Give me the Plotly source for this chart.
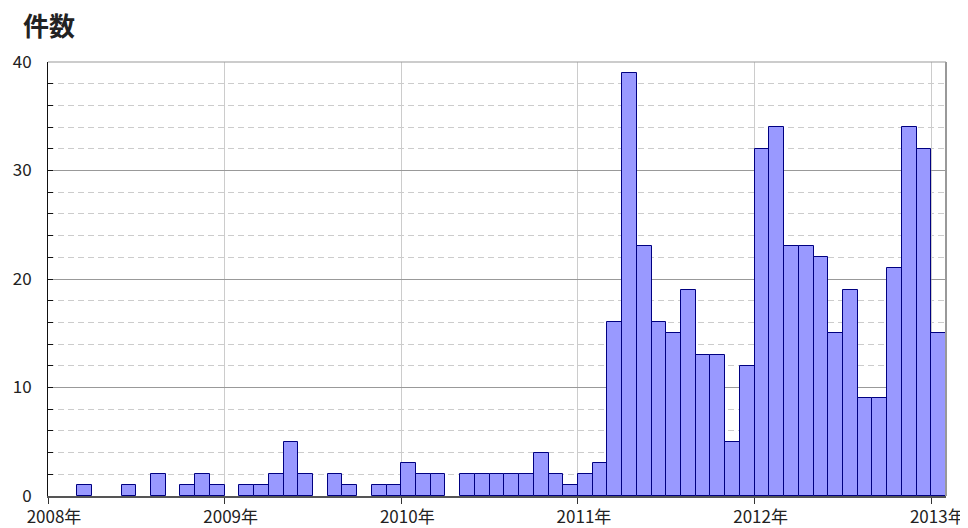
import plotly.graph_objects as go

# Monthly counts, Jan 2008 .. Jan 2013
years = ["2008年", "2009年", "2010年", "2011年", "2012年", "2013年"]
counts_2008 = [0, 0, 1, 0, 0, 1, 0, 2, 0, 1, 2, 1]
counts_2009 = [0, 1, 1, 2, 5, 2, 0, 2, 1, 0, 1, 1]
counts_2010 = [3, 2, 2, 0, 2, 2, 2, 2, 2, 4, 2, 1]
counts_2011 = [2, 3, 16, 39, 23, 16, 15, 19, 13, 13, 5, 12]
counts_2012 = [32, 34, 23, 23, 22, 15, 19, 9, 9, 21, 34, 32]
counts_2013 = [15]
y_title = "件数"

counts = counts_2008 + counts_2009 + counts_2010 + counts_2011 + counts_2012 + counts_2013
month_index = list(range(len(counts)))
x_centers = [i + 0.5 for i in month_index]
# months with no cases get no bar
bar_values = [c if c > 0 else None for c in counts]
year_ticks = [12 * k for k in range(len(years))]

FONT = "Noto Sans CJK JP"

# the page body has an 8px margin, so the figure is 8px smaller on each side
W, H = 960, 520

fig = go.Figure()
fig.add_trace(go.Bar(
    x=x_centers,
    y=bar_values,
    width=1,
    marker=dict(color="#9999ff", line=dict(color="#000080", width=1)),
    hoverinfo="y",
))

fig.update_layout(
    width=W, height=H,
    margin=dict(l=40, r=22, t=54, b=32),
    paper_bgcolor="white",
    plot_bgcolor="white",
    showlegend=False,
    bargap=0,
    font=dict(family=FONT, size=17, color="#222"),
    annotations=[
        dict(
            text="<b>" + y_title + "</b>",
            font=dict(family=FONT, size=26, color="#222"),
            xref="paper", yref="paper",
            x=0, y=1, xanchor="left", yanchor="middle",
            xshift=-27, yshift=38,
            showarrow=False,
        )
    ],
    xaxis=dict(
        range=[0, len(counts)],
        tickmode="array",
        tickvals=year_ticks,
        ticktext=years,
        ticks="outside",
        ticklen=6,
        tickcolor="#333",
        ticklabelshift=6,
        ticklabelstandoff=-1,
        showgrid=True,
        gridcolor="#cccccc",
        gridwidth=1,
        showline=True,
        linecolor="#555555",
        linewidth=2,
        zeroline=False,
        automargin=False,
        fixedrange=True,
    ),
    yaxis=dict(
        range=[0, 40],
        dtick=10,
        ticks="inside",
        ticklen=5,
        tickcolor="#111",
        ticklabelstandoff=12,
        showgrid=True,
        gridcolor="#999999",
        gridwidth=1,
        showline=True,
        linecolor="#111111",
        linewidth=1,
        zeroline=False,
        automargin=False,
        minor=dict(
            dtick=2,
            ticks="inside",
            ticklen=5,
            tickcolor="#111",
            showgrid=True,
            gridcolor="#cccccc",
            griddash="6px,4px",
            gridwidth=1,
        ),
        fixedrange=True,
    ),
    shapes=[
        dict(type="line", xref="paper", yref="paper", x0=1, x1=1, y0=0, y1=1,
             line=dict(color="#999999", width=2), layer="above"),
        dict(type="line", xref="paper", yref="paper", x0=0, x1=1, y0=1, y1=1,
             line=dict(color="#999999", width=1), layer="above"),
    ],
)

fig.write_html("out.html")
